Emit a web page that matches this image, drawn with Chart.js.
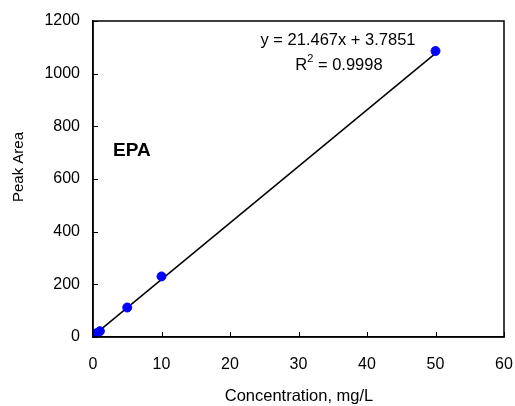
<!DOCTYPE html>
<html>
<head>
<meta charset="utf-8">
<script src="https://cdn.jsdelivr.net/npm/chart.js@4/dist/chart.umd.min.js"></script>
<style>
  html, body { margin: 0; padding: 0; background: #fff; }
  #wrap { width: 515px; height: 406px; }
</style>
</head>
<body>
<div id="wrap"><canvas id="c" width="515" height="406"></canvas></div>
<script>
// calibration points, mg/L vs peak area
const concentration = [0.1, 0.5, 1, 5, 10, 50];
const peakArea = [6, 14, 22, 112, 230, 1086];
// linear trendline y = 21.467x + 3.7851, over the data range
const trendX = [0.1, 50];
const trendY = [5.93, 1077.1];
const xTicks = [0, 10, 20, 30, 40, 50, 60];
const yTicks = [0, 200, 400, 600, 800, 1000, 1200];

const FONT = "'Liberation Sans', Arial, sans-serif";

// box round the plot, inward tick marks, and the text labels
const extras = {
  id: 'extras',
  afterDraw(chart) {
    const { ctx, chartArea: a, scales } = chart;
    ctx.save();
    ctx.strokeStyle = '#000';
    ctx.lineWidth = 1.5;
    ctx.strokeRect(a.left, a.top, a.right - a.left, a.bottom - a.top);
    ctx.lineWidth = 1;
    ctx.beginPath();
    xTicks.forEach(v => {
      const px = Math.round(scales.x.getPixelForValue(v)) + 0.5;
      ctx.moveTo(px, a.bottom); ctx.lineTo(px, a.bottom - 5);
    });
    yTicks.forEach(v => {
      const py = Math.round(scales.y.getPixelForValue(v)) + 0.5;
      ctx.moveTo(a.left, py); ctx.lineTo(a.left + 5, py);
    });
    ctx.stroke();

    ctx.fillStyle = '#000';
    ctx.textAlign = 'center';
    ctx.textBaseline = 'middle';
    ctx.font = '16.5px ' + FONT;
    ctx.fillText('y = 21.467x + 3.7851', 338, 40);
    // R² with a small superscript
    ctx.textAlign = 'left';
    const r1 = 'R', r2 = ' = 0.9998';
    const w1 = ctx.measureText(r1).width;
    ctx.font = '11px ' + FONT;
    const ws = ctx.measureText('2').width;
    ctx.font = '16.5px ' + FONT;
    const w2 = ctx.measureText(r2).width;
    const sx = 339 - (w1 + ws + w2) / 2;
    ctx.fillText(r1, sx, 65);
    ctx.font = '11px ' + FONT;
    ctx.fillText('2', sx + w1, 59);
    ctx.font = '16.5px ' + FONT;
    ctx.fillText(r2, sx + w1 + ws, 65);

    ctx.font = 'bold 19px ' + FONT;
    ctx.textAlign = 'left';
    ctx.fillText('EPA', 113, 151);

    ctx.font = '16.5px ' + FONT;
    ctx.textAlign = 'center';
    ctx.fillText('Concentration, mg/L', 299, 396);
    ctx.translate(19, 167);
    ctx.rotate(-Math.PI / 2);
    ctx.font = '15px ' + FONT;
    ctx.fillText('Peak Area', 0, 0);
    ctx.restore();
  }
};

new Chart(document.getElementById('c'), {
  type: 'scatter',
  data: {
    datasets: [
      {
        type: 'line',
        data: trendX.map((x, i) => ({ x, y: trendY[i] })),
        borderColor: '#000',
        borderWidth: 1.5,
        pointRadius: 0,
        fill: false,
        order: 2
      },
      {
        data: concentration.map((x, i) => ({ x, y: peakArea[i] })),
        backgroundColor: '#0000ff',
        borderColor: '#0000ff',
        pointRadius: 4.5,
        order: 1
      }
    ]
  },
  options: {
    responsive: false,
    animation: false,
    layout: { padding: { left: 0, top: 21, right: 11, bottom: 0 } },
    plugins: { legend: { display: false }, tooltip: { enabled: false } },
    scales: {
      x: {
        type: 'linear', min: 0, max: 60,
        afterFit: s => { s.height = 69; s.paddingRight = 0; s.paddingLeft = 0; },
        afterBuildTicks: s => { s.ticks = xTicks.map(v => ({ value: v })); },
        grid: { drawOnChartArea: false, drawTicks: false },
        border: { color: '#000', width: 1.5 },
        ticks: { padding: 18, color: '#000', font: { family: FONT, size: 16 }, maxRotation: 0, callback: v => String(v) }
      },
      y: {
        type: 'linear', min: 0, max: 1200,
        afterFit: s => { s.width = 93; s.paddingTop = 0; s.paddingBottom = 0; },
        afterBuildTicks: s => { s.ticks = yTicks.map(v => ({ value: v })); },
        grid: { drawOnChartArea: false, drawTicks: false },
        border: { color: '#000', width: 1.5 },
        ticks: { padding: 13, color: '#000', font: { family: FONT, size: 16 }, callback: v => String(v) }
      }
    }
  },
  plugins: [extras]
});
</script>
</body>
</html>
